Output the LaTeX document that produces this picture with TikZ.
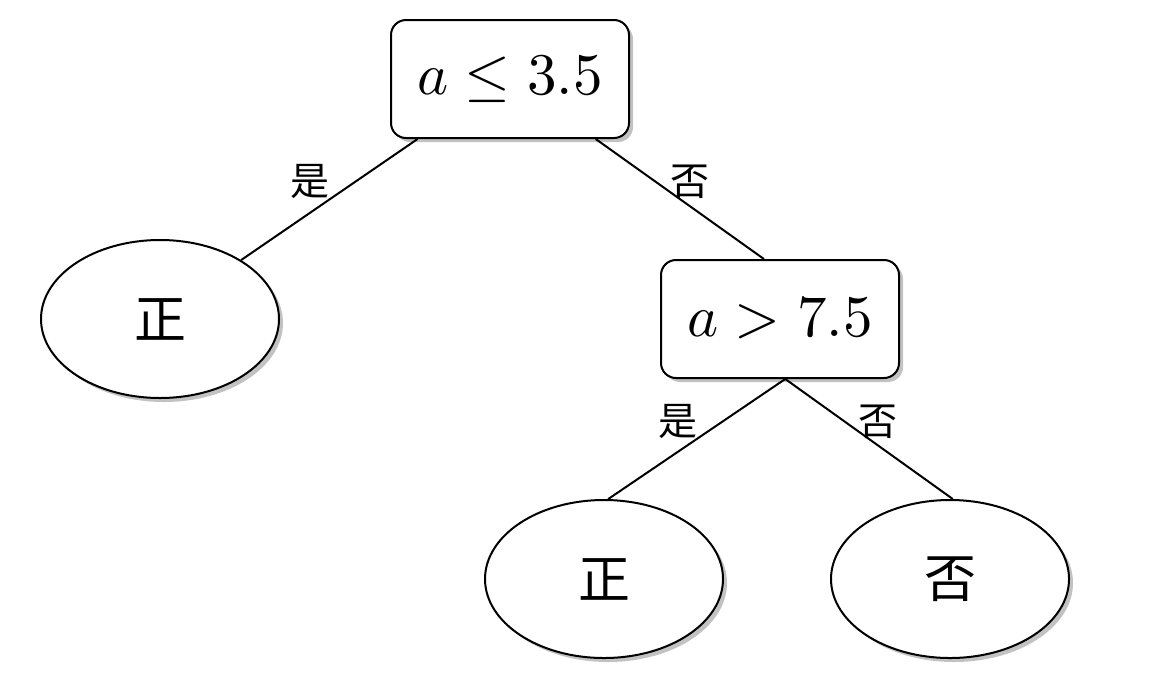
\documentclass[tikz,border=0pt]{standalone}
\usepackage{fontspec}
\newfontfamily\cjk{Noto Sans CJK SC}
\usetikzlibrary{shapes.geometric,shadows}
\begin{document}
\begin{tikzpicture}[x=0.5pt,y=-0.5pt,line width=1pt,
  shade/.style={drop shadow={shadow xshift=2pt,shadow yshift=-2pt,fill=black!24,opacity=1}},
  test/.style={draw,rounded corners=7.5pt,fill=white,shade,minimum width=119pt,minimum height=59pt,
    inner sep=0pt},
  leaf/.style={draw,ellipse,fill=white,shade,minimum width=119pt,minimum height=79pt,
    inner sep=0pt,font=\cjk\fontsize{26}{30}\selectfont},
  lbl/.style={font=\cjk\fontsize{19.5}{22}\selectfont,inner sep=0pt}]
\useasboundingbox (0,0) rectangle (1154,691);
% decision nodes
\node[test] (top) at (510,79) {\scalebox{2.95}{$a \le 3.5$}};
\node[test] (r) at (780,319) {\scalebox{2.95}{$a > 7.5$}};
% leaves
\node[leaf] (l1) at (160,319) {正};
\node[leaf] (l2) at (604,579) {正};
\node[leaf] (l3) at (950,579) {否};
% branches
\draw (top.213) -- node[lbl,xshift=-9.5pt,yshift=9pt] {是} (l1.36.87);
\draw (top.-35) -- node[lbl,xshift=5.25pt,yshift=8.5pt] {否} (r.105);
\draw (r.-85) -- node[lbl,xshift=-9.5pt,yshift=8.75pt] {是} (l2.87);
\draw (r.-85) -- node[lbl,xshift=4.25pt,yshift=8.75pt] {否} (l3.88);
\end{tikzpicture}
\end{document}
